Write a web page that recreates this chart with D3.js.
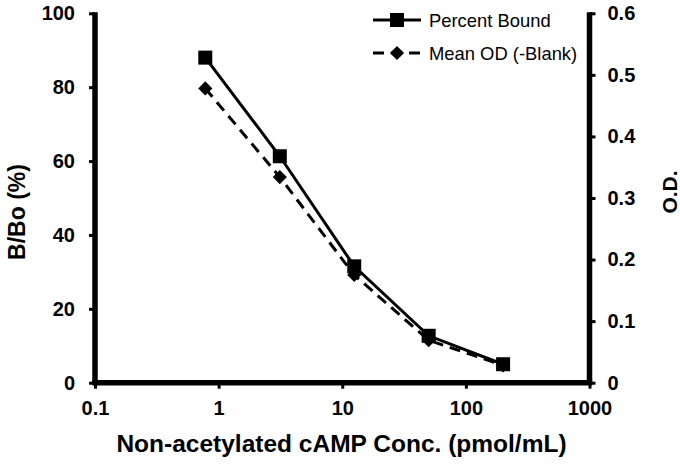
<!DOCTYPE html>
<html>
<head>
<meta charset="utf-8">
<script src="https://cdn.jsdelivr.net/npm/d3@7"></script>
<style>
  html, body { margin: 0; padding: 0; background: #fff; }
  svg { display: block; }
  text { font-family: "Liberation Sans", Arial, sans-serif; fill: #000; }
</style>
</head>
<body>
<div id="chart"></div>
<script>
// ---- data ----
const concentrations = [0.78, 3.125, 12.5, 50, 200];
const percentBound = [88, 61.3, 31.5, 12.7, 5.0];
const meanOD = [0.478, 0.334, 0.175, 0.069, 0.028];
const xTicks = [0.1, 1, 10, 100, 1000];
const xTickLabels = ["0.1", "1", "10", "100", "1000"];
const leftTicks = [0, 20, 40, 60, 80, 100];
const rightTicks = [0, 0.1, 0.2, 0.3, 0.4, 0.5, 0.6];
const seriesNames = ["Percent Bound", "Mean OD (-Blank)"];

// ---- layout ----
const W = 680, H = 465;
const plot = { left: 95, right: 589.5, top: 13.3, bottom: 382.7 };

const svg = d3.select("#chart").append("svg").attr("width", W).attr("height", H);

const x = d3.scaleLog().domain([0.1, 1000]).range([plot.left, plot.right]);
const yL = d3.scaleLinear().domain([0, 100]).range([plot.bottom, plot.top]);
const yR = d3.scaleLinear().domain([0, 0.6]).range([plot.bottom, plot.top]);

const axisW = 5.5;

// axes
const gx = svg.append("g").attr("transform", `translate(0,${plot.bottom})`)
  .call(d3.axisBottom(x).tickValues(xTicks).tickFormat((d, i) => xTickLabels[i]).tickSize(6).tickPadding(12));
const gl = svg.append("g").attr("transform", `translate(${plot.left},0)`)
  .call(d3.axisLeft(yL).tickValues(leftTicks).tickFormat(d3.format("d")).tickSize(6).tickPadding(14));
const gr = svg.append("g").attr("transform", `translate(${plot.right},0)`)
  .call(d3.axisRight(yR).tickValues(rightTicks).tickFormat(d => d === 0 ? "0" : d3.format(".1f")(d)).tickSize(6).tickPadding(12));

[gx, gl, gr].forEach(g => {
  g.select(".domain").attr("stroke", "#000").attr("stroke-width", axisW)
    .attr("d", null);
  g.selectAll(".tick line").attr("stroke", "#000").attr("stroke-width", 3);
  g.selectAll(".tick text").style("font-size", "20px").style("font-weight", "bold")
    .style("font-family", '"Liberation Sans", Arial, sans-serif');
});
// redraw domain lines as plain thick lines (no end caps from axis outer ticks)
gx.select(".domain").remove();
gl.select(".domain").remove();
gr.select(".domain").remove();
svg.append("line").attr("x1", plot.left - axisW / 2).attr("x2", plot.right + axisW / 2)
  .attr("y1", plot.bottom).attr("y2", plot.bottom).attr("stroke", "#000").attr("stroke-width", axisW);
svg.append("line").attr("x1", plot.left).attr("x2", plot.left)
  .attr("y1", plot.top - 1).attr("y2", plot.bottom).attr("stroke", "#000").attr("stroke-width", axisW);
svg.append("line").attr("x1", plot.right).attr("x2", plot.right)
  .attr("y1", plot.top - 1).attr("y2", plot.bottom).attr("stroke", "#000").attr("stroke-width", axisW);

// series lines
const lineL = d3.line().x((d, i) => x(concentrations[i])).y(d => yL(d));
const lineR = d3.line().x((d, i) => x(concentrations[i])).y(d => yR(d));

svg.append("path").datum(meanOD).attr("d", lineR).attr("fill", "none")
  .attr("stroke", "#000").attr("stroke-width", 3).attr("stroke-dasharray", "11,7");
svg.append("path").datum(percentBound).attr("d", lineL).attr("fill", "none")
  .attr("stroke", "#000").attr("stroke-width", 3);

const sq = 14;
const diamond = d3.symbol().type(d3.symbolSquare).size(100);
svg.selectAll(".dia").data(meanOD).join("path").attr("class", "dia")
  .attr("d", diamond)
  .attr("transform", (d, i) => `translate(${x(concentrations[i])},${yR(d)}) rotate(45)`)
  .attr("fill", "#000");
svg.selectAll(".sq").data(percentBound).join("rect").attr("class", "sq")
  .attr("x", (d, i) => x(concentrations[i]) - sq / 2)
  .attr("y", d => yL(d) - sq / 2)
  .attr("width", sq).attr("height", sq).attr("fill", "#000");

// legend
const leg = svg.append("g");
const legRows = [{ y: 20, dash: null }, { y: 53, dash: "11,7" }];
legRows.forEach((r, i) => {
  leg.append("line").attr("x1", 373).attr("x2", 421).attr("y1", r.y).attr("y2", r.y)
    .attr("stroke", "#000").attr("stroke-width", 3).attr("stroke-dasharray", r.dash);
  if (i === 0) {
    leg.append("rect").attr("x", 397 - sq / 2).attr("y", r.y - sq / 2).attr("width", sq).attr("height", sq).attr("fill", "#000");
  } else {
    leg.append("path").attr("d", diamond).attr("transform", `translate(397,${r.y}) rotate(45)`).attr("fill", "#000");
  }
  leg.append("text").attr("x", 429).attr("y", r.y + 7).style("font-size", "18.4px").text(seriesNames[i]);
});

// axis titles
svg.append("text").attr("x", 341.5).attr("y", 452).attr("text-anchor", "middle")
  .style("font-size", "24.5px").style("font-weight", "bold")
  .text("Non-acetylated cAMP Conc. (pmol/mL)");
svg.append("text").attr("transform", "translate(25,212) rotate(-90)").attr("text-anchor", "middle")
  .style("font-size", "23px").style("font-weight", "bold").text("B/Bo (%)");
svg.append("text").attr("transform", "translate(677,192) rotate(-90)").attr("text-anchor", "middle")
  .style("font-size", "21px").style("font-weight", "bold").text("O.D.");
</script>
</body>
</html>
